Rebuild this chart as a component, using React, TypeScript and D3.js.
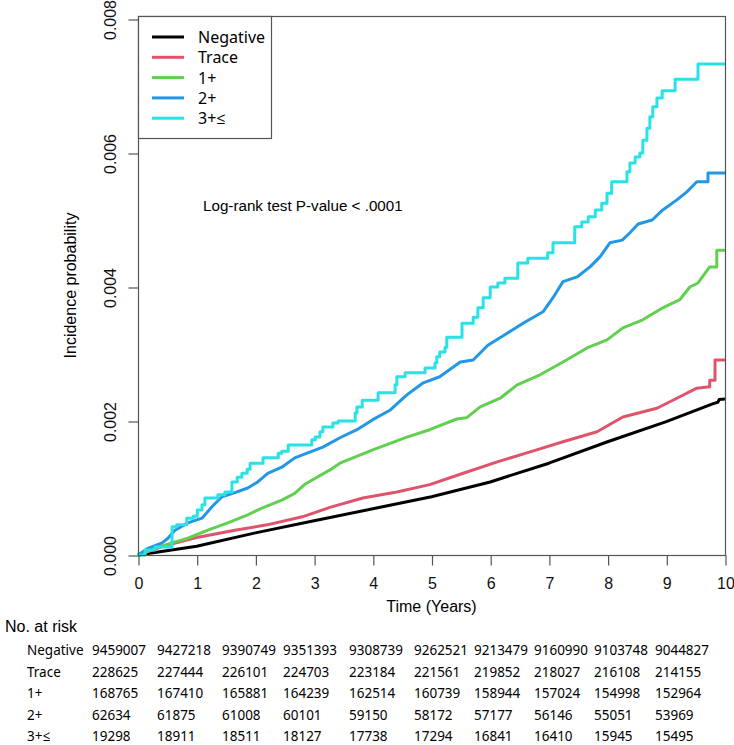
// @ts-nocheck
import * as d3 from 'd3';
import React, { useEffect, useRef } from 'react';

// group names and colours (R 4 default palette)
const groups = ['Negative', 'Trace', '1+', '2+', '3+\u2264'];
const groupColors = ['#000000', '#DF536B', '#61D04F', '#2297E6', '#28E2E5'];

// cumulative incidence: [years, probability]
const negativeCurve = [
  [0, 0], [1, 0.00013], [2, 0.00033], [3, 0.00051], [4, 0.00069], [5, 0.00087],
  [6, 0.00109], [7, 0.00137], [8, 0.00169], [9, 0.00199], [9.5, 0.00216],
  [9.8, 0.00226], [9.88, 0.00228], [9.9, 0.00232], [10, 0.00233],
];

const traceCurve = [
  [0, 0], [0.5, 0.00015], [1.05, 0.00027], [1.65, 0.00037], [2.2, 0.00045],
  [2.8, 0.00057], [3.27, 0.00071], [3.83, 0.00085], [4.41, 0.00094], [4.97, 0.00105],
  [5.54, 0.00122], [6.12, 0.00139], [6.68, 0.00154], [7.24, 0.00169], [7.82, 0.00184],
  [8.26, 0.00206], [8.84, 0.00219], [9.18, 0.00234], [9.52, 0.00249], [9.74, 0.00251],
  [9.74, 0.00261], [9.83, 0.00261], [9.83, 0.00291], [10, 0.00291],
];

const plus1Curve = [
  [0, 0], [0.29, 0.0001], [0.58, 0.00018], [0.85, 0.00025], [1.19, 0.00037],
  [1.53, 0.00048], [1.87, 0.0006], [2.11, 0.0007], [2.45, 0.00082], [2.67, 0.00092],
  [2.85, 0.00106], [3.27, 0.00127], [3.44, 0.00137], [4.0, 0.00157], [4.58, 0.00176],
  [4.97, 0.00187], [5.43, 0.00203], [5.6, 0.00205], [5.83, 0.00221], [6.17, 0.00234],
  [6.46, 0.00254], [6.85, 0.00269], [7.24, 0.00288], [7.65, 0.00309], [7.99, 0.00321],
  [8.26, 0.00339], [8.6, 0.00351], [8.94, 0.00369], [9.23, 0.00381], [9.4, 0.004],
  [9.54, 0.00406], [9.74, 0.0043], [9.86, 0.0043], [9.86, 0.00455], [10, 0.00455],
];

const plus2Curve = [
  [0, 0], [0.17, 0.0001], [0.41, 0.00018], [0.51, 0.00025], [0.63, 0.00037],
  [0.85, 0.00048], [1.09, 0.00055], [1.26, 0.00072], [1.43, 0.00087], [1.65, 0.00093],
  [1.87, 0.001], [2.04, 0.00109], [2.21, 0.00122], [2.45, 0.00131], [2.67, 0.00145],
  [2.88, 0.00152], [3.15, 0.00161], [3.44, 0.00175], [3.73, 0.00187], [4.0, 0.00202],
  [4.29, 0.00216], [4.58, 0.00239], [4.86, 0.00257], [5.14, 0.00266], [5.49, 0.00288],
  [5.71, 0.00291], [5.96, 0.00313], [6.29, 0.00331], [6.56, 0.00346], [6.9, 0.00363],
  [7.07, 0.00384], [7.24, 0.00408], [7.48, 0.00415], [7.7, 0.0043], [7.87, 0.00445],
  [8.04, 0.00466], [8.25, 0.0047], [8.38, 0.00481], [8.52, 0.00494], [8.76, 0.005],
  [8.94, 0.00515], [9.18, 0.0053], [9.35, 0.00542], [9.52, 0.00557], [9.71, 0.00557],
  [9.71, 0.0057], [10, 0.0057],
];

// 3+ curve is a coarse step function: [event time, value after the jump]
const plus3Curve = [
  [0, 0], [0.12, 0.000075], [0.29, 0.00012], [0.58, 0.00042], [0.66, 0.00045],
  [0.83, 0.00055], [0.94, 0.00058], [1.01, 0.00067], [1.09, 0.00075], [1.14, 0.00085],
  [1.36, 0.0009], [1.48, 0.00094], [1.6, 0.00109], [1.69, 0.00116], [1.77, 0.00122],
  [1.86, 0.00128], [1.91, 0.00137], [2.13, 0.00145], [2.39, 0.00152], [2.45, 0.00155],
  [2.56, 0.00164], [2.96, 0.00172], [3.02, 0.00176], [3.1, 0.00184], [3.15, 0.00191],
  [3.32, 0.00197], [3.41, 0.002], [3.7, 0.00212], [3.73, 0.00221], [3.82, 0.00231],
  [4.09, 0.00242], [4.38, 0.00254], [4.41, 0.00266], [4.55, 0.00272], [4.89, 0.00279],
  [5.06, 0.00287], [5.09, 0.00296], [5.14, 0.00303], [5.23, 0.0031], [5.26, 0.00325],
  [5.52, 0.00346], [5.71, 0.00355], [5.79, 0.00369], [5.88, 0.00384], [6.0, 0.004],
  [6.13, 0.00406], [6.25, 0.00413], [6.47, 0.00436], [6.64, 0.00443], [6.98, 0.00451],
  [7.07, 0.00466], [7.44, 0.0049], [7.56, 0.00497], [7.67, 0.00505], [7.79, 0.00515],
  [7.9, 0.00525], [7.99, 0.0054], [8.07, 0.00557], [8.33, 0.00572], [8.38, 0.00585],
  [8.47, 0.00594], [8.55, 0.006], [8.6, 0.00619], [8.67, 0.00637], [8.72, 0.00654],
  [8.77, 0.00669], [8.84, 0.00682], [8.93, 0.00693], [9.15, 0.0071], [9.54, 0.00733],
  [10, 0.00733],
];

const curves = [negativeCurve, traceCurve, plus1Curve, plus2Curve, plus3Curve];

const xTicks = [0, 1, 2, 3, 4, 5, 6, 7, 8, 9, 10];
const yTicks = [0, 0.002, 0.004, 0.006, 0.008];

// number at risk table
const riskNegative = [9459007, 9427218, 9390749, 9351393, 9308739, 9262521, 9213479, 9160990, 9103748, 9044827];
const riskTrace = [228625, 227444, 226101, 224703, 223184, 221561, 219852, 218027, 216108, 214155];
const riskPlus1 = [168765, 167410, 165881, 164239, 162514, 160739, 158944, 157024, 154998, 152964];
const riskPlus2 = [62634, 61875, 61008, 60101, 59150, 58172, 57177, 56146, 55051, 53969];
const riskPlus3 = [19298, 18911, 18511, 18127, 17738, 17294, 16841, 16410, 15945, 15495];
const riskRows = [riskNegative, riskTrace, riskPlus1, riskPlus2, riskPlus3];

const width = 734;
const height = 745;

export default function App() {
  const svgRef = useRef(null);

  useEffect(() => {
    const svg = d3.select(svgRef.current);
    svg.selectAll('*').remove();

    const plot = { left: 138, right: 725, top: 16, bottom: 555 };
    const sans = '"Liberation Sans", Arial, sans-serif';
    const uiFont = '"Noto Sans", "Open Sans", sans-serif';
    const axisColor = '#555';

    const x = d3.scaleLinear().domain([0, 10]).range([plot.left, plot.right]);
    const y = d3.scaleLinear().domain([0, 0.008]).range([plot.bottom, 19]);

    svg.append('rect')
      .attr('width', width)
      .attr('height', height)
      .attr('fill', '#fff');

    // curves
    curves.forEach((pts, i) => {
      const line = d3.line()
        .x(d => x(d[0]))
        .y(d => y(d[1]))
        .curve(i === 4 ? d3.curveStepAfter : d3.curveLinear);
      svg.append('path')
        .datum(pts)
        .attr('fill', 'none')
        .attr('stroke', groupColors[i])
        .attr('stroke-width', 3)
        .attr('stroke-linejoin', 'round')
        .attr('d', line);
    });

    // plot frame
    svg.append('rect')
      .attr('x', plot.left + 0.5)
      .attr('y', plot.top + 0.5)
      .attr('width', plot.right - plot.left)
      .attr('height', plot.bottom - plot.top)
      .attr('fill', 'none')
      .attr('stroke', axisColor)
      .attr('stroke-width', 1.2);

    // x axis
    const xAxis = svg.append('g')
      .attr('transform', `translate(0.5,${plot.bottom + 0.5})`)
      .call(d3.axisBottom(x).tickValues(xTicks).tickSize(10).tickFormat(d3.format('d')));
    xAxis.select('.domain').remove();
    xAxis.selectAll('line').attr('stroke', axisColor).attr('stroke-width', 1.2);
    xAxis.selectAll('text')
      .attr('y', 33)
      .attr('dy', 0)
      .attr('fill', '#111')
      .style('font-family', sans)
      .style('font-size', '16px');

    // y axis, labels rotated as in base R
    const yAxis = svg.append('g')
      .attr('transform', `translate(${plot.left + 0.5},0.5)`)
      .call(d3.axisLeft(y).tickValues(yTicks).tickSize(10).tickFormat(d3.format('.3f')));
    yAxis.select('.domain').remove();
    yAxis.selectAll('line').attr('stroke', axisColor).attr('stroke-width', 1.2);
    yAxis.selectAll('text')
      .attr('x', 0)
      .attr('dy', 0)
      .attr('transform', 'translate(-23,0) rotate(-90)')
      .attr('text-anchor', 'middle')
      .attr('fill', '#111')
      .style('font-family', sans)
      .style('font-size', '16px');

    // axis titles
    svg.append('text')
      .attr('x', (plot.left + plot.right) / 2)
      .attr('y', 612)
      .attr('text-anchor', 'middle')
      .style('font-family', sans)
      .style('font-size', '16px')
      .text('Time (Years)');

    svg.append('text')
      .attr('transform', `translate(76,${(plot.top + plot.bottom) / 2}) rotate(-90)`)
      .attr('text-anchor', 'middle')
      .style('font-family', sans)
      .style('font-size', '16px')
      .text('Incidence probability');

    // legend
    const legend = svg.append('g');
    legend.append('rect')
      .attr('x', plot.left + 0.5)
      .attr('y', plot.top + 0.5)
      .attr('width', 133)
      .attr('height', 122)
      .attr('fill', '#fff')
      .attr('stroke', axisColor)
      .attr('stroke-width', 1.2);
    groups.forEach((name, i) => {
      const ly = 37 + i * 20.3;
      legend.append('line')
        .attr('x1', 152).attr('x2', 184)
        .attr('y1', ly).attr('y2', ly)
        .attr('stroke', groupColors[i])
        .attr('stroke-width', 3);
      legend.append('text')
        .attr('x', 198)
        .attr('y', ly + 6)
        .style('font-family', uiFont)
        .style('font-size', '16px')
        .text(name);
    });

    svg.append('text')
      .attr('x', 203)
      .attr('y', 211)
      .style('font-family', sans)
      .style('font-size', '15.2px')
      .text('Log-rank test P-value < .0001');

    // number at risk
    svg.append('text')
      .attr('x', 5)
      .attr('y', 632)
      .style('font-family', sans)
      .style('font-size', '16px')
      .text('No. at risk');

    // table text is slightly condensed in the original
    const colX = [92, 157, 222, 283, 349, 414, 474, 534, 594, 655];
    const cell = (tx, ty, s) =>
      svg.append('text')
        .attr('transform', `translate(${tx},${ty}) scale(0.93,1)`)
        .style('font-family', uiFont)
        .style('font-size', '14.5px')
        .text(s);
    riskRows.forEach((row, r) => {
      const ry = 655 + r * 21.6;
      cell(27, ry, groups[r]);
      row.forEach((v, c) => cell(colX[c], ry, v));
    });
  }, []);

  return (
    <svg
      ref={svgRef}
      width={width}
      height={height}
      style={{ position: 'absolute', left: 0, top: 0, display: 'block' }}
    />
  );
}
